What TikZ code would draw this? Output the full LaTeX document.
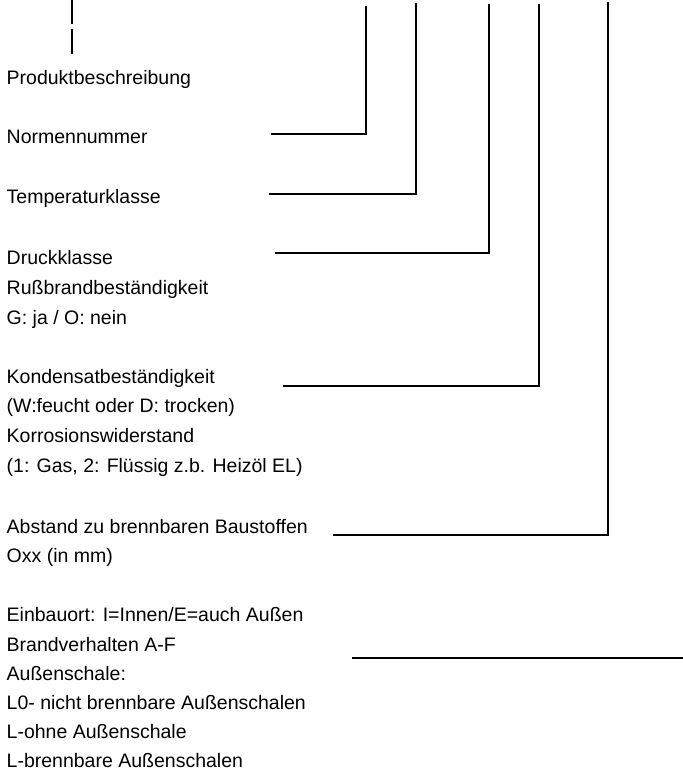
\documentclass[tikz,border=0pt]{standalone}
\usepackage{fontspec}
\setmainfont{Liberation Sans}
\usepackage{tikz}
\usetikzlibrary{positioning, calc}

\tikzset{
  lbl/.style={anchor=base west, inner sep=0pt, font=\fontsize{19.5}{23}\selectfont},
  leader/.style={line width=1.7pt, black}
}

\begin{document}
\begin{tikzpicture}[x=1pt, y=-1pt]
  \useasboundingbox (0,0) rectangle (683,772);
  \def\lx{6.5}
  % Bezeichnungen links (Grundlinien)
  \node[lbl] (prod)   at (\lx, 84.5)  {Produktbeschreibung};
  \node[lbl] (norm)   at (\lx, 143.5) {Normennummer};
  \node[lbl] (temp)   at (\lx, 203.5) {Temperaturklasse};
  \node[lbl] (druck)  at (\lx, 264.5) {Druckklasse};
  \node[lbl] (russ)   at (\lx, 294.5) {Rußbrandbeständigkeit};
  \node[lbl] (gja)    at (\lx, 324.5) {G: ja / O: nein};
  \node[lbl] (kond)   at (\lx, 383)   {Kondensatbeständigkeit};
  \node[lbl] (feucht) at (\lx, 412.5) {(W:feucht oder D: trocken)};
  \node[lbl] (korr)   at (\lx, 442.5) {Korrosionswiderstand};
  \node[lbl] (gas)    at (\lx, 472.5) {(1: Gas, 2: Flüssig z.b. Heizöl EL)};
  \node[lbl] (abst)   at (\lx, 533)   {Abstand zu brennbaren Baustoffen};
  \node[lbl] (oxx)    at (\lx, 562)   {Oxx (in mm)};
  \node[lbl] (einbau) at (\lx, 621.5) {Einbauort: I=Innen/E=auch Außen};
  \node[lbl] (brand)  at (\lx, 651)   {Brandverhalten A-F};
  \node[lbl] (aussen) at (\lx, 680)   {Außenschale:};
  \node[lbl] (lnull)  at (\lx, 709)   {L0- nicht brennbare Außenschalen};
  \node[lbl] (lohne)  at (\lx, 738.5) {L-ohne Außenschale};
  \node[lbl] (lbrenn) at (\lx, 767.5) {L-brennbare Außenschalen};

  % obere Enden der Bezugslinien
  \coordinate (top1) at (366.3, 6);
  \coordinate (top2) at (416.3, 2.7);
  \coordinate (top3) at (488.8, 4.3);
  \coordinate (top4) at (539.2, 4.3);
  \coordinate (top5) at (608.2, 2.3);
  % linke Enden der Bezugslinien
  \coordinate (start1) at (271, 134);
  \coordinate (start2) at (269.3, 194.3);
  \coordinate (start3) at (275.3, 253.3);
  \coordinate (start4) at (283, 386.2);
  \coordinate (start5) at (333.3, 535.3);

  \foreach \i in {1,...,5}
    \draw[leader] (start\i) -| (top\i);

  % kurze Linie ueber Produktbeschreibung
  \coordinate (pa) at (72.3, 0);
  \coordinate (pb) at (72.3, 24);
  \coordinate (pc) at (72.3, 29.3);
  \coordinate (pd) at (72.3, 54);
  \draw[leader] (pa) -- (pb);
  \draw[leader] (pc) -- (pd);

  % freie Linie unten rechts
  \coordinate (ea) at (351.7, 657.7);
  \coordinate (eb) at (683, 657.7);
  \draw[leader] (ea) -- (eb);
\end{tikzpicture}
\end{document}
